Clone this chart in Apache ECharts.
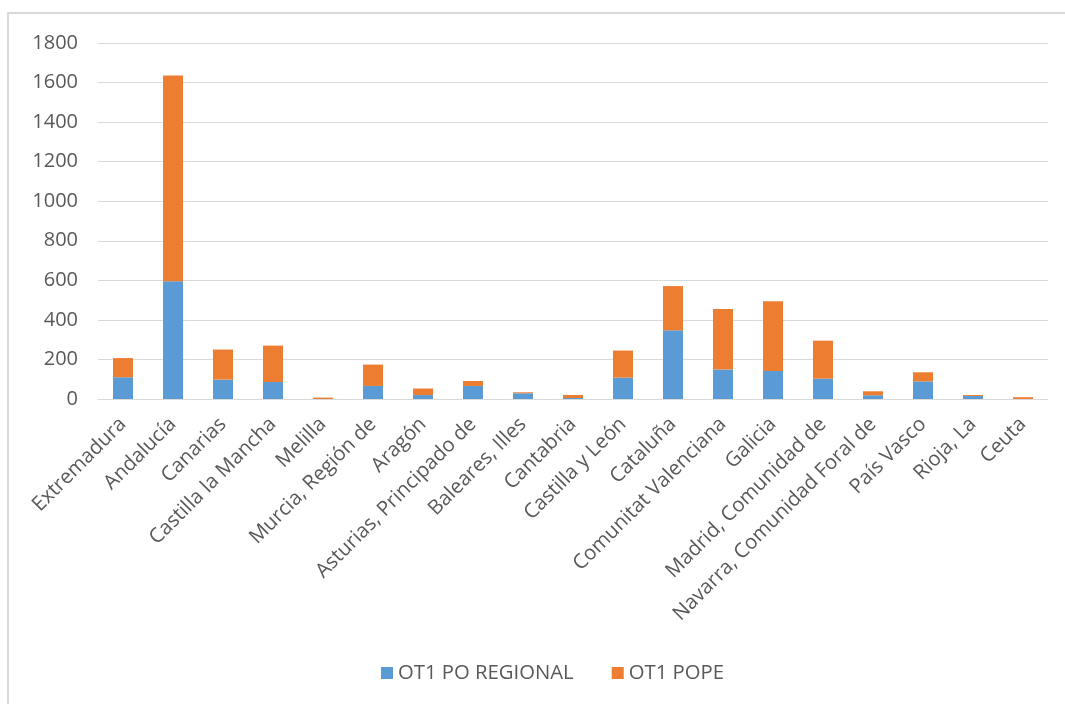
<!DOCTYPE html>
<html><head><meta charset="utf-8">
<script src="https://cdn.jsdelivr.net/npm/echarts@6/dist/echarts.min.js"></script>
<style>html,body{margin:0;padding:0;background:#fff}#c{width:1065px;height:704px}</style>
</head><body><div id="c"></div>
<script>
const categories = ["Extremadura","Andalucía","Canarias","Castilla la Mancha","Melilla","Murcia, Región de","Aragón","Asturias, Principado de","Baleares, Illes","Cantabria","Castilla y León","Cataluña","Comunitat Valenciana","Galicia","Madrid, Comunidad de","Navarra, Comunidad Foral de","País Vasco","Rioja, La","Ceuta"];
const poRegional = [110,595,98,86,0,66,20,66,29,5,108,347,149,142,103,19,89,15,0];
const pope = [97,1041,152,184,7,108,33,25,5,15,137,224,306,352,192,20,46,5,9];
const yTicks = {min:0, max:1800, interval:200};
const seriesNames = ["OT1 PO REGIONAL","OT1 POPE"];

const font = "'Open Sans', sans-serif";
const chart = echarts.init(document.getElementById('c'));
chart.setOption({
  animation:false,
  color:['#5B9BD5','#ED7D31'],
  graphic:[{type:'rect',shape:{x:8,y:13,width:1100,height:720},style:{fill:'none',stroke:'#D9D9D9',lineWidth:2},silent:true}],
  grid:{left:98,right:17,top:43,bottom:305},
  legend:{bottom:16,left:376,itemWidth:12,itemHeight:12,itemGap:38,icon:'rect',
    textStyle:{color:'#595959',fontSize:20.3,fontFamily:font},data:seriesNames},
  xAxis:{type:'category',data:categories,
    axisLine:{lineStyle:{color:'#D9D9D9',width:1}},axisTick:{show:false},
    axisLabel:{rotate:45,interval:0,color:'#595959',fontSize:20.3,fontFamily:font,margin:22}},
  yAxis:{type:'value',min:yTicks.min,max:yTicks.max,interval:yTicks.interval,
    axisLine:{show:false},axisTick:{show:false},
    splitLine:{lineStyle:{color:'#D9D9D9',width:1}},
    axisLabel:{color:'#595959',fontSize:20,fontFamily:font,margin:20,formatter:v=>String(v)}},
  series:[
    {name:seriesNames[0],type:'bar',stack:'t',data:poRegional,barWidth:20},
    {name:seriesNames[1],type:'bar',stack:'t',data:pope,barWidth:20}
  ]
});
</script></body></html>
